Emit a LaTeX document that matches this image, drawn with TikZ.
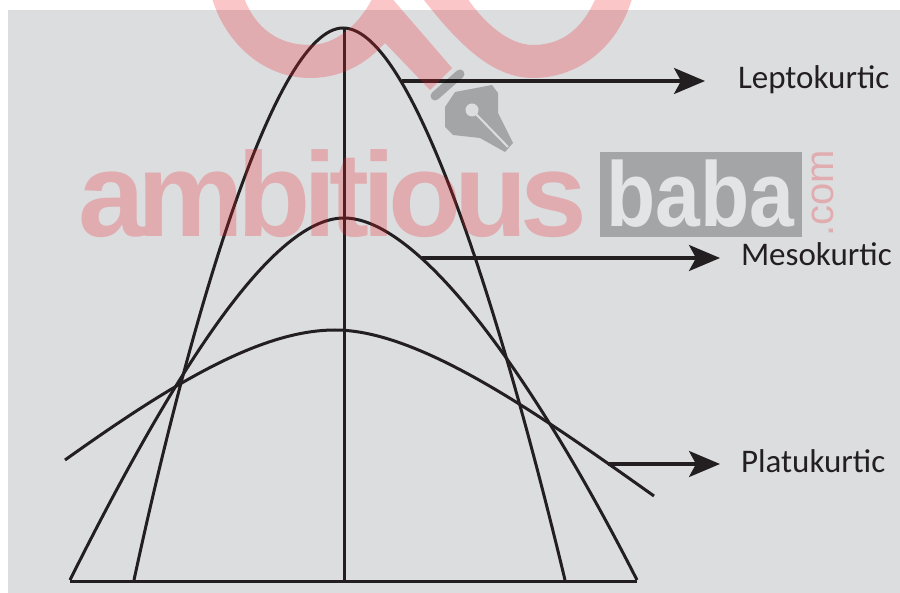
\documentclass[tikz,border=0pt]{standalone}
\usepackage{fontspec}
\setmainfont{Carlito}
\newfontfamily\markfont[LetterSpace=-6]{Liberation Sans Bold}
\newfontfamily\babafont{Liberation Sans Bold}
\newfontfamily\comfont{Liberation Sans}
\usetikzlibrary{positioning, arrows.meta}
\definecolor{paneGray}{RGB}{220,221,223}
\definecolor{inkBlack}{RGB}{35,31,32}
\definecolor{markRed}{RGB}{237,28,36}

\begin{document}
\begin{tikzpicture}[x=1pt, y=-1pt,
					curve/.style={draw=inkBlack, line width=3pt},
					arrow/.style={-{Stealth[length=31pt, width=26pt, inset=7pt]}, draw=inkBlack, line width=3.2pt},
					label/.style={anchor=west, inner sep=0pt, outer sep=0pt, text=inkBlack, font=\fontsize{33}{33}\selectfont, text height=22pt, text depth=6pt}]
					\useasboundingbox (0,0) rectangle (900,593);
					\fill[paneGray] (8,10) rectangle (900,593);
					% curves
					\draw[curve] (134,580) .. controls (190,320) and (275,28) .. (343,28) .. controls (415,28) and (505,330) .. (565,580);
					\draw[curve] (70,580) .. controls (170,380) and (270,218) .. (344,218) .. controls (415,218) and (525,360) .. (637,580);
					\draw[curve] (65,460) .. controls (170,385) and (260,330) .. (335,330) .. controls (420,330) and (540,415) .. (654,496);
					\coordinate (topmid) at (344,28);
					\coordinate (basemid) at (344,581);
					\coordinate (baseleft) at (70,581);
					\coordinate (baseright) at (637,581);
					\draw[curve] (topmid) -- (basemid);
					\draw[curve] (baseleft) -- (baseright);
					% labels and arrows
					\node[label] (lepto) at (738,81) {Leptokurtic};
					\node[label] (meso) at (741,258) {Mesokurtic};
					\node[label] (platu) at (741,464) {Platukurtic};
					\coordinate (leptofoot) at (402,81);
					\coordinate (mesofoot) at (422,258);
					\coordinate (platufoot) at (608,464);
					\draw[arrow, shorten >=33pt] (leptofoot) -- (lepto);
					\draw[arrow, shorten >=21pt] (mesofoot) -- (meso);
					\draw[arrow, shorten >=21pt] (platufoot) -- (platu);
					% watermark
					\begin{scope}[opacity=.25]
						\begin{scope}
							\clip (0,0) rectangle (900,593);
							\fill[markRed] (211,-5) .. controls (225,45) and (265,78) .. (310,78) .. controls (340,78) and (365,65) .. (385,43) -- (430,90) -- (452,68) -- (389,-5) -- (374,-5) .. controls (360,25) and (335,45) .. (310,45) .. controls (280,45) and (255,30) .. (243,-5) -- cycle;
							\fill[markRed] (420,-5) .. controls (455,40) and (490,78) .. (533,78) .. controls (580,78) and (620,45) .. (633,-5) -- (597,-5) .. controls (585,25) and (565,45) .. (533,45) .. controls (510,45) and (485,25) .. (465,-5) -- cycle;
						\end{scope}
						\node[anchor=base west, inner sep=0pt, text=markRed, font=\markfont\fontsize{120}{120}\selectfont] (ambitious) at (78,237) {ambitious};
						\node[anchor=base west, inner sep=0pt, rotate=90, text=markRed, font=\comfont\fontsize{40}{40}\selectfont] (dotcom) at (833,237) {.com};
						\fill[black] (600,152) rectangle (802,237);
						\fill[black, line join=round] (455,92) -- (492,85) -- (498,93) -- (498,113) -- (513,143) -- (505,152) -- (480,138) -- (453,135) -- (445,127) -- (445,107) -- cycle;
						\draw[black, line width=9pt, line cap=round] (435,96) -- (460,74);
					\end{scope}
					\node[anchor=base west, inner sep=0pt, xscale=.875, transform shape, text=paneGray!80!white, font=\babafont\fontsize{92}{92}\selectfont] (baba) at (606,227) {baba};
					\fill[paneGray] (472,110) circle (6.5pt);
					\draw[paneGray, line width=2pt] (472,110) -- (508,147);
				\end{tikzpicture}
\end{document}
